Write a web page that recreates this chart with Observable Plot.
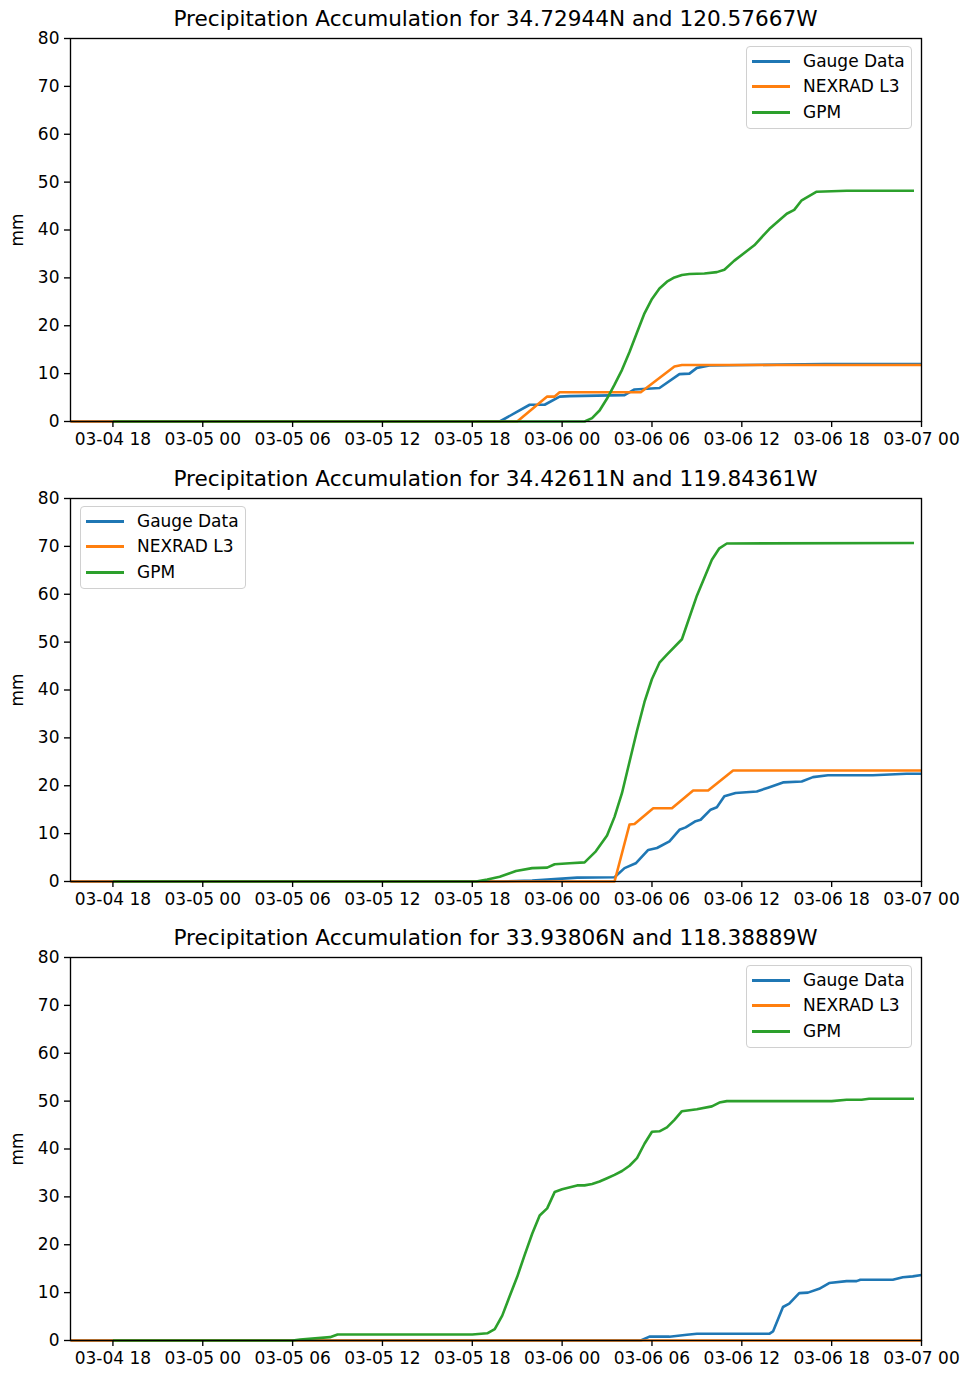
<!DOCTYPE html>
<html>
<head>
<meta charset="utf-8">
<script src="https://cdn.jsdelivr.net/npm/d3@7"></script>
<script src="https://cdn.jsdelivr.net/npm/@observablehq/plot@0.6"></script>
<style>
  html, body { margin: 0; padding: 0; background: white; }
  #page { position: relative; width: 964px; height: 1373px; font-family: "DejaVu Sans", sans-serif; color: black; }
  .title { position: absolute; left: 0; width: 991px; text-align: center; font-size: 21.6px; line-height: 21.6px; white-space: nowrap; }
  .panel { position: absolute; left: 0; }
  .legend { position: absolute; width: 166px; height: 83px; box-sizing: border-box; border: 1.7px solid #d0d0d0; border-radius: 4px; background: rgba(255,255,255,0.8); }
  .legend .sw { position: absolute; left: 5px; width: 38px; height: 3px; }
  .legend .lb { position: absolute; left: 56px; font-size: 17px; line-height: 17px; white-space: nowrap; }
</style>
</head>
<body>
<div id="page"></div>
<script>
// ---- data (time "MM-DD HH:MM", mm) ----
const titles = [
  "Precipitation Accumulation for 34.72944N and 120.57667W",
  "Precipitation Accumulation for 34.42611N and 119.84361W",
  "Precipitation Accumulation for 33.93806N and 118.38889W"
];
const seriesNames = ["Gauge Data", "NEXRAD L3", "GPM"];
const seriesColors = ["#1f77b4", "#ff7f0e", "#2ca02c"];
const xTickLabels = ["03-04 18","03-05 00","03-05 06","03-05 12","03-05 18","03-06 00","03-06 06","03-06 12","03-06 18","03-07 00"];
const yTickValues = [0,10,20,30,40,50,60,70,80];

const gauge1 = [["03-04 15:10",0],["03-05 19:50",0],["03-05 20:55",1.9],["03-05 21:50",3.5],["03-05 22:50",3.5],["03-05 23:50",5.2],["03-06 00:30",5.3],["03-06 04:10",5.5],["03-06 04:50",6.7],["03-06 06:30",7.0],["03-06 07:50",9.9],["03-06 08:30",10.0],["03-06 09:00",11.2],["03-06 09:50",11.7],["03-06 17:30",12.0],["03-07 00:00",12.0]];
const nexrad1 = [["03-04 15:10",0],["03-05 21:00",0],["03-05 23:00",5.2],["03-05 23:30",5.2],["03-05 23:50",6.1],["03-06 05:15",6.1],["03-06 07:30",11.5],["03-06 08:00",11.8],["03-07 00:00",11.8]];
const gpm1 = [["03-04 18:00",0],["03-06 01:30",0],["03-06 02:00",0.7],["03-06 02:30",2.3],["03-06 03:00",4.8],["03-06 03:30",7.7],["03-06 04:00",10.8],["03-06 04:30",14.5],["03-06 05:00",18.6],["03-06 05:30",22.6],["03-06 06:00",25.6],["03-06 06:30",27.8],["03-06 07:00",29.2],["03-06 07:30",30.1],["03-06 08:00",30.6],["03-06 08:30",30.8],["03-06 09:30",30.9],["03-06 10:20",31.2],["03-06 10:50",31.7],["03-06 11:30",33.6],["03-06 12:50",36.8],["03-06 13:50",40.2],["03-06 15:00",43.4],["03-06 15:30",44.2],["03-06 16:00",46.2],["03-06 17:00",48.0],["03-06 19:00",48.2],["03-06 23:30",48.2]];

const gauge2 = [["03-04 15:10",0],["03-05 20:00",0],["03-05 22:00",0.2],["03-06 00:00",0.6],["03-06 01:00",0.8],["03-06 03:30",0.9],["03-06 04:10",2.8],["03-06 04:55",3.8],["03-06 05:45",6.6],["03-06 06:20",7.0],["03-06 07:10",8.4],["03-06 07:50",10.8],["03-06 08:15",11.3],["03-06 08:55",12.6],["03-06 09:15",12.9],["03-06 09:55",15.0],["03-06 10:20",15.5],["03-06 10:50",17.8],["03-06 11:35",18.5],["03-06 13:00",18.8],["03-06 13:45",19.6],["03-06 14:45",20.7],["03-06 16:00",20.9],["03-06 16:45",21.8],["03-06 17:45",22.2],["03-06 20:45",22.2],["03-06 21:30",22.3],["03-06 23:00",22.5],["03-07 00:00",22.5]];
const nexrad2 = [["03-04 15:10",0],["03-06 03:30",0],["03-06 04:30",11.9],["03-06 04:50",12.0],["03-06 06:05",15.3],["03-06 07:20",15.3],["03-06 08:45",19.0],["03-06 09:45",19.0],["03-06 11:25",23.2],["03-07 00:00",23.2]];
const gpm2 = [["03-04 18:00",0],["03-05 18:15",0],["03-05 19:00",0.4],["03-05 19:50",1.0],["03-05 20:55",2.2],["03-05 22:00",2.8],["03-05 23:00",2.9],["03-05 23:30",3.6],["03-06 00:30",3.8],["03-06 01:30",4.0],["03-06 02:15",6.3],["03-06 03:00",9.6],["03-06 03:30",13.5],["03-06 04:00",18.5],["03-06 04:30",25.0],["03-06 05:00",31.5],["03-06 05:30",37.5],["03-06 06:00",42.3],["03-06 06:30",45.7],["03-06 07:00",47.4],["03-06 08:00",50.6],["03-06 09:00",59.7],["03-06 10:00",67.2],["03-06 10:30",69.6],["03-06 11:00",70.6],["03-06 23:30",70.7]];

const gauge3 = [["03-04 15:10",0],["03-06 05:15",0],["03-06 05:50",0.8],["03-06 07:10",0.8],["03-06 08:20",1.2],["03-06 09:00",1.4],["03-06 13:50",1.4],["03-06 14:05",1.9],["03-06 14:45",7.0],["03-06 15:10",7.7],["03-06 15:50",9.9],["03-06 16:25",10.0],["03-06 17:10",10.8],["03-06 17:50",12.0],["03-06 19:00",12.4],["03-06 19:40",12.4],["03-06 19:55",12.7],["03-06 22:05",12.7],["03-06 22:45",13.2],["03-06 23:25",13.4],["03-07 00:00",13.7]];
const nexrad3 = [["03-04 15:10",0],["03-07 00:00",0]];
const gpm3 = [["03-04 18:00",0],["03-05 06:00",0],["03-05 06:30",0.2],["03-05 08:30",0.7],["03-05 09:00",1.25],["03-05 18:00",1.25],["03-05 19:00",1.5],["03-05 19:30",2.4],["03-05 20:00",5.2],["03-05 20:30",9.3],["03-05 21:00",13.3],["03-05 21:30",17.9],["03-05 22:00",22.3],["03-05 22:30",26.1],["03-05 23:00",27.6],["03-05 23:30",31.0],["03-06 00:00",31.6],["03-06 01:00",32.4],["03-06 01:30",32.4],["03-06 02:00",32.7],["03-06 02:30",33.2],["03-06 03:00",33.9],["03-06 03:30",34.6],["03-06 04:00",35.4],["03-06 04:30",36.5],["03-06 05:00",38.1],["03-06 05:30",41.1],["03-06 06:00",43.6],["03-06 06:30",43.7],["03-06 07:00",44.5],["03-06 07:30",46.1],["03-06 08:00",47.9],["03-06 09:00",48.3],["03-06 10:00",48.9],["03-06 10:30",49.7],["03-06 11:00",50.0],["03-06 18:00",50.0],["03-06 19:00",50.3],["03-06 20:00",50.3],["03-06 20:30",50.5],["03-06 23:30",50.5]];

const panels = [
  {title: titles[0], series: [gauge1, nexrad1, gpm1], legend: "right"},
  {title: titles[1], series: [gauge2, nexrad2, gpm2], legend: "left"},
  {title: titles[2], series: [gauge3, nexrad3, gpm3], legend: "right"}
];

// ---- helpers ----
const YEAR = 2019;
function parseT(s) {
  const [md, hm] = s.split(" ");
  const [mo, da] = md.split("-").map(Number);
  const [hh, mi] = (hm.length > 2 ? hm : hm + ":00").split(":").map(Number);
  return new Date(Date.UTC(YEAR, mo - 1, da, hh, mi));
}
const xStart = parseT("03-04 15:10");
const xEnd = parseT("03-07 00:00");
const xTicks = xTickLabels.map(parseT);
const fmt = d3.utcFormat("%m-%d %H");

const page = document.getElementById("page");
const axesTops = [38, 498, 957];
const plotH = 383;
const mTop = 10, mBottom = 50;

panels.forEach((p, i) => {
  const T = axesTops[i];
  // title
  const t = document.createElement("div");
  t.className = "title";
  t.textContent = p.title;
  t.style.top = (T - 30) + "px";
  page.appendChild(t);

  const marks = [];
  p.series.forEach((s, k) => {
    const data = s.map(([tt, v]) => ({t: parseT(tt), v}));
    marks.push(Plot.line(data, {x: "t", y: "v", stroke: seriesColors[k], strokeWidth: 2.6, strokeLinejoin: "round", strokeLinecap: "butt"}));
  });
  marks.push(Plot.frame({stroke: "black", strokeWidth: 1.35}));
  marks.push(Plot.axisX({ticks: xTicks, tickFormat: fmt, tickSize: 6, tickPadding: 5, strokeWidth: 1.35, label: null, fontSize: 17}));
  marks.push(Plot.axisY({ticks: yTickValues, tickSize: 6, tickPadding: 5, strokeWidth: 1.35, label: "mm", labelAnchor: "center", labelArrow: "none", labelOffset: 60, fontSize: 17}));

  const svg = Plot.plot({
    width: 964,
    height: plotH + mTop + mBottom,
    marginTop: mTop,
    marginBottom: mBottom,
    marginLeft: 70,
    marginRight: 43,
    style: {fontFamily: "DejaVu Sans", fontSize: "17px", color: "black", background: "transparent"},
    x: {type: "utc", domain: [xStart, xEnd]},
    y: {domain: [0, 80]},
    marks
  });
  const wrap = document.createElement("div");
  wrap.className = "panel";
  wrap.style.top = (T - mTop) + "px";
  wrap.appendChild(svg);
  page.appendChild(wrap);

  // legend
  const lg = document.createElement("div");
  lg.className = "legend";
  lg.style.top = (T + 8) + "px";
  lg.style.left = (p.legend === "right" ? 746 : 80) + "px";
  seriesNames.forEach((name, k) => {
    const rowY = Math.round(15.5 + 25.5 * k - 1.7);
    const sw = document.createElement("div");
    sw.className = "sw";
    sw.style.top = (rowY - 1) + "px";
    sw.style.background = seriesColors[k];
    lg.appendChild(sw);
    const lb = document.createElement("div");
    lb.className = "lb";
    lb.style.top = (rowY - 8) + "px";
    lb.textContent = name;
    lg.appendChild(lb);
  });
  page.appendChild(lg);
});
</script>
</body>
</html>
